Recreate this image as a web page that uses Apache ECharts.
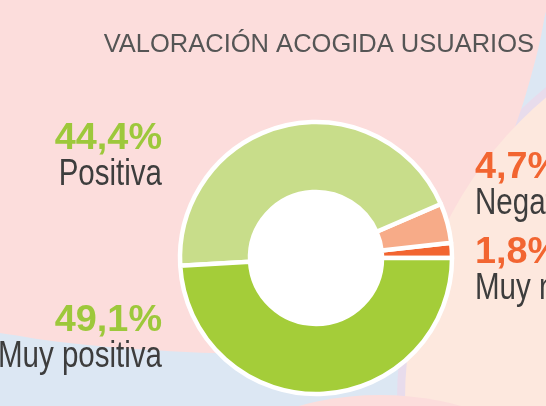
<!DOCTYPE html>
<html>
<head>
<meta charset="utf-8">
<script src="https://cdn.jsdelivr.net/npm/echarts@6/dist/echarts.min.js"></script>
<style>
  html, body { margin: 0; padding: 0; }
  #pie { width: 546px; height: 406px; }
</style>
</head>
<body>
<div id="pie"></div>
<script>
var title = 'VALORACIÓN ACOGIDA USUARIOS';
var categories = ['Muy negativa', 'Negativa', 'Positiva', 'Muy positiva'];
var values = [1.8, 4.7, 44.4, 49.1];
var sliceColors = ['#f26531', '#f7ab88', '#c8dd8a', '#a4cd39'];
var pctColors = ['#f26531', '#f26531', '#9dc83b', '#9dc83b'];

// where each label block sits (left labels are right aligned)
var labelPos = [
  { x: 475, y: 235, align: 'left' },
  { x: 475, y: 150, align: 'left' },
  { x: 162, y: 121, align: 'right' },
  { x: 162, y: 303, align: 'right' }
];

var data = categories.map(function (c, i) {
  return { name: c, value: values[i], itemStyle: { color: sliceColors[i] } };
});

// labels: percent in bold, name in a condensed look underneath
var labels = [];
categories.forEach(function (c, i) {
  var lp = labelPos[i];
  labels.push({
    type: 'text', z: 3, x: lp.x, y: lp.y, scaleX: 1.05,
    style: {
      text: values[i].toFixed(1).replace('.', ',') + '%',
      fill: pctColors[i], align: lp.align, verticalAlign: 'top',
      font: 'bold 36px "Liberation Sans", Arial, sans-serif'
    }
  });
  labels.push({
    type: 'text', z: 3, x: lp.x, y: lp.y + 36, scaleX: 0.82,
    style: {
      text: c, fill: '#3d3d3d', align: lp.align, verticalAlign: 'top',
      font: '36px "Liberation Sans", Arial, sans-serif'
    }
  });
});

var option = {
  animation: false,
  backgroundColor: '#dce7f3',
  graphic: [
    // decorative background shapes
    { type: 'circle', z: 0, shape: { cx: 800, cy: 400, r: 403 }, style: { fill: '#e8dcec' } },
    {
      type: 'polygon', z: 0,
      shape: {
        smooth: 0.35,
        points: [[-40, -40], [550, -40], [544, 20], [530, 80], [510, 140], [470, 230], [420, 300],
                 [340, 345], [250, 353], [150, 350], [60, 342], [0, 333], [-40, 328]]
      },
      style: { fill: '#fcdddc' }
    },
    { type: 'circle', z: 0, shape: { cx: 800, cy: 400, r: 395 }, style: { fill: '#fde8de' } },
    { type: 'circle', z: 0, shape: { cx: 380, cy: 700, r: 305 }, style: { fill: '#fcdddc' } },
    { type: 'circle', z: 1, shape: { cx: 316, cy: 258, r: 70 }, style: { fill: '#ffffff' } },
    {
      type: 'text', z: 3, x: 534, y: 32,
      style: {
        text: title, fill: '#555555', align: 'right', verticalAlign: 'top',
        font: '25.5px "Liberation Sans", Arial, sans-serif'
      }
    }
  ].concat(labels),
  series: [{
    type: 'pie',
    center: [316, 258],
    radius: [66, 136],
    startAngle: 0,
    clockwise: false,
    silent: true,
    itemStyle: { borderColor: '#ffffff', borderWidth: 4.5 },
    label: { show: false },
    labelLine: { show: false },
    data: data
  }]
};

var ech = echarts.init(document.getElementById('pie'));
ech.setOption(option);
</script>
</body>
</html>
